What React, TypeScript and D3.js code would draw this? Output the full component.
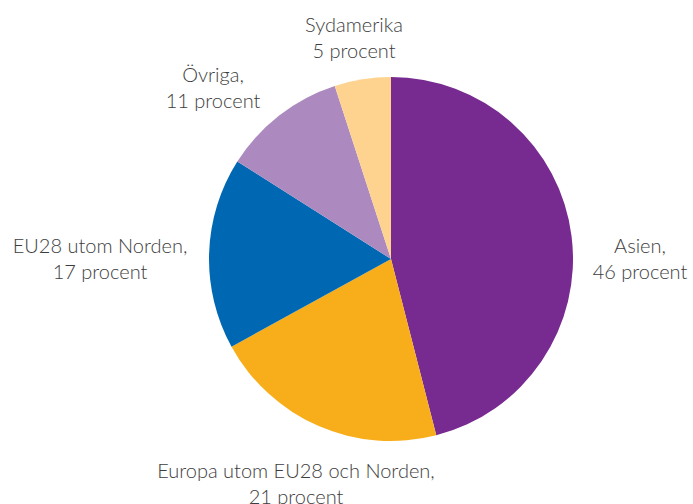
import React, { useEffect, useRef } from "react";
import * as d3 from "d3";

// Andel per region, procent
const regions = ["Asien", "Europa utom EU28 och Norden", "EU28 utom Norden", "Övriga", "Sydamerika"];
const shares = [46, 21, 17, 11, 5];
const labelLines = [
  ["Asien,", "46 procent"],
  ["Europa utom EU28 och Norden,", "21 procent"],
  ["EU28 utom Norden,", "17 procent"],
  ["Övriga,", "11 procent"],
  ["Sydamerika", "5 procent"],
];
const colors = ["#772A8F", "#F8AE1A", "#0068B3", "#AC8ABF", "#FDD38F"];
// label placement relative to pie centre (first line baseline)
const labelOffsets: [number, number][] = [
  [249, -6],
  [-95, 219],
  [-291, -6],
  [-178, -177],
  [-37, -227],
];

const App = () => {
  const svgRef = useRef<SVGSVGElement>(null);
  const width = 693;
  const height = 504;

  useEffect(() => {
    const svg = d3.select(svgRef.current);
    svg.selectAll("*").remove();

    const cx = 391;
    const cy = 259;
    const radius = 182;

    const data = regions.map((name, i) => ({ name, value: shares[i], i }));
    const pie = d3.pie<any>().sort(null).value(d => d.value);
    const arc = d3.arc<any>().innerRadius(0).outerRadius(radius);

    const g = svg.append("g").attr("transform", `translate(${cx}, ${cy})`);

    g.selectAll("path")
      .data(pie(data))
      .enter()
      .append("path")
      .attr("d", arc)
      .attr("fill", d => colors[d.data.i]);

    const labels = g.selectAll(".label")
      .data(data)
      .enter()
      .append("text")
      .attr("class", "label")
      .attr("text-anchor", "middle")
      .attr("fill", "#3d3d3d")
      .style("font-family", "Lato, 'Open Sans', sans-serif")
      .style("font-weight", 300)
      .style("font-size", "20px")
      .attr("x", d => labelOffsets[d.i][0])
      .attr("y", d => labelOffsets[d.i][1]);

    labels.each(function (d) {
      labelLines[d.i].forEach((line, j) => {
        d3.select(this)
          .append("tspan")
          .attr("x", labelOffsets[d.i][0])
          .attr("dy", j === 0 ? 0 : 25.5)
          .text(line);
      });
    });
  }, []);

  return (
    <svg
      ref={svgRef}
      width={width}
      height={height}
      style={{ position: "absolute", left: 0, top: 0, background: "#fff" }}
    />
  );
};

export default App;
